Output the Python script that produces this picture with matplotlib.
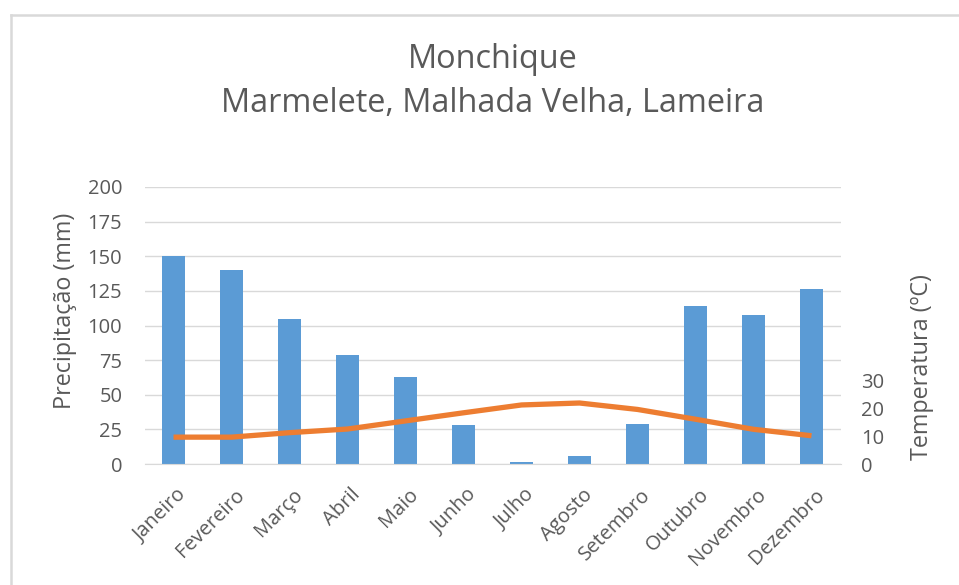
import matplotlib
matplotlib.use("Agg")
import matplotlib.pyplot as plt
from matplotlib.lines import Line2D
import matplotlib.transforms as mtransforms

months = ["Janeiro", "Fevereiro", "Março", "Abril", "Maio", "Junho", "Julho",
          "Agosto", "Setembro", "Outubro", "Novembro", "Dezembro"]
precip_mm = [150, 140, 105, 79, 63, 28, 1.2, 5.5, 29, 114, 107.5, 126]
temp_c = [9.6, 9.6, 11.2, 12.5, 15.4, 18.3, 21.1, 21.8, 19.5, 16.0, 12.4, 10.1]
left_ticks = [0, 25, 50, 75, 100, 125, 150, 175, 200]
right_ticks = [0, 10, 20, 30]

title_lines = ["Monchique", "Marmelete, Malhada Velha, Lameira"]
ylabel_left = "Precipitação (mm)"
ylabel_right = "Temperatura (ºC)"

plt.rcParams['font.family'] = ['Open Sans', 'DejaVu Sans']
gray = "#595959"
W, H = 959, 585
fig = plt.figure(figsize=(W / 100, H / 100), dpi=100)

# chart border (top and left visible)
fig.add_artist(Line2D([11 / W, 11 / W], [0, 1 - 15 / H], transform=fig.transFigure,
                      color="#d9d9d9", lw=1.8))
fig.add_artist(Line2D([11 / W, 1], [1 - 15 / H, 1 - 15 / H], transform=fig.transFigure,
                      color="#d9d9d9", lw=1.8))

left, right, top, bottom = 144.5, 840.5, 187, 464
ax = fig.add_axes([left / W, 1 - bottom / H, (right - left) / W, (bottom - top) / H])
x = list(range(len(months)))
ax.bar(x, precip_mm, width=0.4, color="#5b9bd5", zorder=2)
ax.set_xlim(-0.5, len(months) - 0.5)
ax.set_ylim(0, 200)
ax.set_yticks(left_ticks)
ax.yaxis.grid(True, color="#d9d9d9", lw=1, zorder=0)
for s in ["top", "right", "left"]:
    ax.spines[s].set_visible(False)
ax.spines["bottom"].set_color("#d9d9d9")
ax.tick_params(axis="both", length=0, colors=gray, labelsize=14.5)
ax.tick_params(axis="y", pad=16)
ax.set_xticks(x)
ax.set_xticklabels(months, rotation=45, ha="right", va="top", rotation_mode="anchor")
ax.tick_params(axis="x", pad=15)
offset = mtransforms.ScaledTranslation(3 / 100, 0, fig.dpi_scale_trans)
for lbl in ax.get_xticklabels():
    lbl.set_transform(lbl.get_transform() + offset)
ax.set_ylabel(ylabel_left, color=gray, fontsize=16.8)
ax.yaxis.set_label_coords(-0.097, 0.552)

ax2 = ax.twinx()
ax2.plot(x, temp_c, color="#ed7d31", lw=3.8, solid_capstyle="butt",
         solid_joinstyle="round", zorder=3)
ax2.set_ylim(0, 99)
ax2.set_yticks(right_ticks)
for s in ax2.spines.values():
    s.set_visible(False)
ax2.tick_params(axis="y", length=0, colors=gray, labelsize=14.5, pad=15)
ax2.set_ylabel(ylabel_right, color=gray, fontsize=16.8)
ax2.yaxis.set_label_coords(1.100, 0.35)

fig.text(493 / W, 1 - 60 / H, title_lines[0], ha="center", va="center", color=gray, fontsize=23.4)
fig.text(493 / W, 1 - 104 / H, title_lines[1], ha="center", va="center", color=gray, fontsize=23.4)

fig.savefig("out.png", dpi=100)
